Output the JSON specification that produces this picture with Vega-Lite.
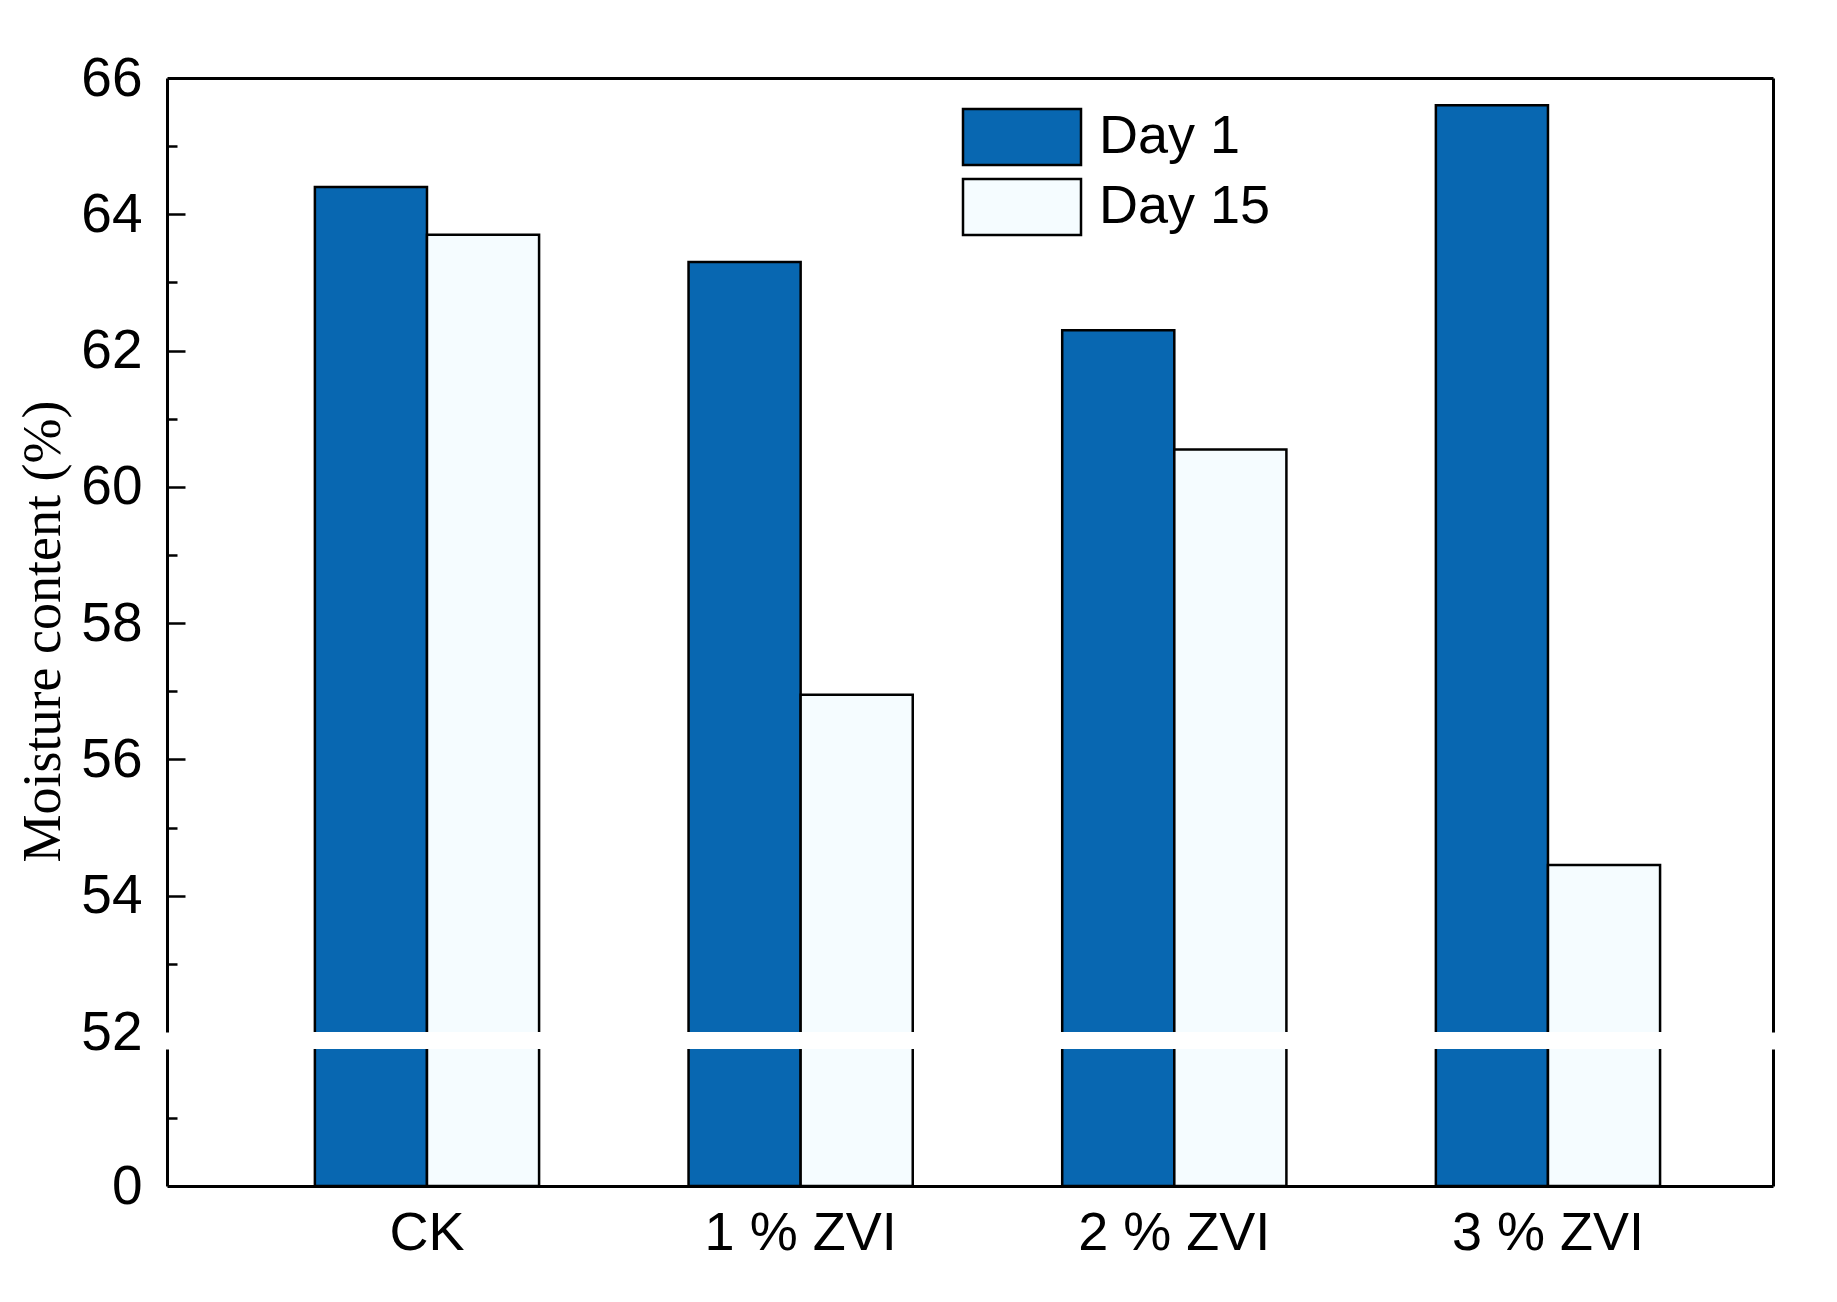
{
  "$schema": "https://vega.github.io/schema/vega-lite/v6.json",
  "background": "white",
  "padding": {"left": 16, "top": 51, "right": 5, "bottom": 5},
  "data": {
    "values": [
      {"Group": "CK", "Day": "Day 1", "Moisture": 64.4},
      {"Group": "CK", "Day": "Day 15", "Moisture": 63.7},
      {"Group": "1 % ZVI", "Day": "Day 1", "Moisture": 63.3},
      {"Group": "1 % ZVI", "Day": "Day 15", "Moisture": 56.95},
      {"Group": "2 % ZVI", "Day": "Day 1", "Moisture": 62.3},
      {"Group": "2 % ZVI", "Day": "Day 15", "Moisture": 60.55},
      {"Group": "3 % ZVI", "Day": "Day 1", "Moisture": 65.6},
      {"Group": "3 % ZVI", "Day": "Day 15", "Moisture": 54.45}
    ]
  },
  "config": {
    "font": "Liberation Sans",
    "view": {"stroke": null},
    "axis": {"domainColor": "black", "domainWidth": 3, "labelColor": "black", "tickColor": "black", "tickWidth": 2.5, "grid": false, "labelFont": "Liberation Sans"}
  },
  "bounds": "flush",
  "spacing": 17,
  "resolve": {"scale": {"y": "independent"}},
  "vconcat": [
    {
      "width": 1606,
      "height": 954,
      "layer": [
        {
          "mark": {"type": "bar", "clip": true, "stroke": "black", "strokeWidth": 2.5},
          "encoding": {
            "x": {"field": "Group", "type": "nominal", "sort": ["CK", "1 % ZVI", "2 % ZVI", "3 % ZVI"],
              "scale": {"paddingInner": 0.4, "paddingOuter": 0.349, "align": 0.567},
              "axis": {"orient": "top", "labels": false, "ticks": false, "title": null}},
            "xOffset": {"field": "Day", "type": "nominal", "sort": ["Day 1", "Day 15"], "scale": {"paddingInner": 0, "paddingOuter": 0}},
            "y": {"field": "Moisture", "type": "quantitative", "scale": {"domain": [52, 66], "nice": false, "zero": false},
              "axis": {"values": [52, 53, 54, 55, 56, 57, 58, 59, 60, 61, 62, 63, 64, 65, 66],
                "labelExpr": "datum.value % 2 === 0 ? datum.label : ''",
                "labelFontSize": 55, "labelPadding": 43,
                "tickSize": {"condition": {"test": "datum.value % 2 === 0", "value": -18}, "value": -10},
                "tickOpacity": {"condition": {"test": "datum.value == 52 || datum.value == 66", "value": 0}, "value": 1},
                "title": "Moisture content (%)", "titleFont": "Liberation Serif", "titleFontSize": 54, "titleFontWeight": "normal",
                "titleColor": "black", "titlePadding": 10, "titleY": 553}},
            "y2": {"datum": 0},
            "color": {"field": "Day", "type": "nominal",
              "scale": {"domain": ["Day 1", "Day 15"], "range": ["#0867B1", "#F5FCFF"]},
              "legend": {"title": null, "orient": "none", "legendX": 824, "legendY": 28,
                "symbolType": "M-2,-0.95H2V0.95H-2Z", "symbolSize": 3481,
                "symbolStrokeColor": "black", "symbolStrokeWidth": 2.5, "symbolOpacity": 1,
                "labelFontSize": 54, "labelFont": "Liberation Sans", "labelColor": "black", "labelLimit": 0,
                "labelOffset": 46, "rowPadding": 2, "padding": 0}}
          }
        },
        {
          "mark": {"type": "bar", "clip": true, "opacity": 0},
          "encoding": {
            "x": {"field": "Group", "type": "nominal", "sort": ["CK", "1 % ZVI", "2 % ZVI", "3 % ZVI"],
              "scale": {"paddingInner": 0.4, "paddingOuter": 0.349, "align": 0.567},
              "axis": {"orient": "top", "labels": false, "ticks": false, "title": null}},
            "y": {"field": "Moisture", "type": "quantitative",
              "axis": {"orient": "right", "labels": false, "ticks": false, "title": null}}
          }
        }
      ],
      "resolve": {"axis": {"y": "independent"}}
    },
    {
      "width": 1606,
      "height": 137,
      "layer": [
        {
          "mark": {"type": "bar", "clip": true, "stroke": "black", "strokeWidth": 2.5},
          "encoding": {
            "x": {"field": "Group", "type": "nominal", "sort": ["CK", "1 % ZVI", "2 % ZVI", "3 % ZVI"],
              "scale": {"paddingInner": 0.4, "paddingOuter": 0.349, "align": 0.567},
              "axis": {"orient": "bottom", "ticks": false, "title": null, "labelFontSize": 54, "labelPadding": 20, "labelAngle": 0, "labelLimit": 0}},
            "xOffset": {"field": "Day", "type": "nominal", "sort": ["Day 1", "Day 15"], "scale": {"paddingInner": 0, "paddingOuter": 0}},
            "y": {"field": "Moisture", "type": "quantitative", "scale": {"domain": [0, 20], "nice": false},
              "axis": {"values": [0, 10], "labelExpr": "datum.value === 0 ? '0' : ''",
                "labelFontSize": 55, "labelPadding": 35, "tickSize": -10,
                "tickOpacity": {"condition": {"test": "datum.value == 0", "value": 0}, "value": 1},
                "title": null}},
            "y2": {"datum": 0},
            "color": {"field": "Day", "type": "nominal", "scale": {"domain": ["Day 1", "Day 15"], "range": ["#0867B1", "#F5FCFF"]}, "legend": null}
          }
        },
        {
          "mark": {"type": "bar", "clip": true, "opacity": 0},
          "encoding": {
            "x": {"field": "Group", "type": "nominal", "sort": ["CK", "1 % ZVI", "2 % ZVI", "3 % ZVI"],
              "scale": {"paddingInner": 0.4, "paddingOuter": 0.349, "align": 0.567},
              "axis": {"orient": "bottom", "ticks": false, "title": null, "labelFontSize": 54, "labelPadding": 20, "labelAngle": 0, "labelLimit": 0}},
            "y": {"field": "Moisture", "type": "quantitative",
              "axis": {"orient": "right", "labels": false, "ticks": false, "title": null}}
          }
        }
      ],
      "resolve": {"axis": {"y": "independent"}}
    }
  ]
}
